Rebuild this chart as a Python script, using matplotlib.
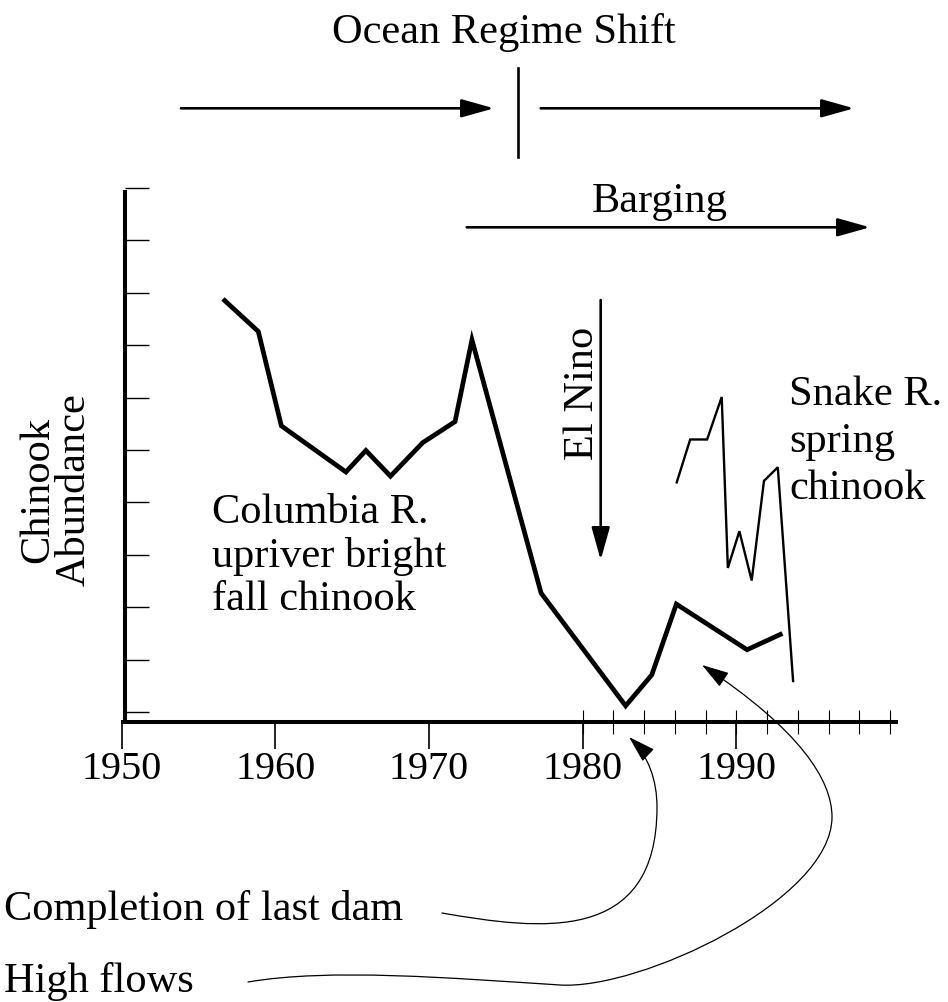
"""Chinook abundance sketch: Columbia R. fall chinook and Snake R. spring chinook."""
import matplotlib

matplotlib.use("Agg")
import matplotlib.pyplot as plt
from matplotlib.patches import FancyArrowPatch
from matplotlib.path import Path

plt.rcParams["font.family"] = ["Liberation Serif", "DejaVu Serif"]

# values (abundance in tick units, 0..10)
columbia_years = [1956.6, 1958.9, 1960.4, 1964.6, 1965.9, 1967.5, 1969.6,
                  1971.7, 1972.8, 1977.3, 1982.8, 1984.5, 1986.1, 1990.7, 1993.0]
columbia_abundance = [7.88, 7.26, 5.46, 4.58, 4.99, 4.50, 5.14,
                      5.54, 7.10, 2.27, 0.12, 0.71, 2.06, 1.19, 1.50]

snake_years = [1986.1, 1987.0, 1988.1, 1989.05, 1989.45, 1990.2, 1991.0,
               1991.8, 1992.7, 1993.7]
snake_abundance = [4.36, 5.20, 5.20, 6.01, 2.75, 3.45, 2.51, 4.41, 4.67, 0.57]

year_ticks = [1950, 1960, 1970, 1980, 1990]
year_minor_ticks = list(range(1980, 2001, 2))
abundance_ticks = list(range(0, 11))

columbia_label = ["Columbia R.", "upriver bright", "fall chinook"]
snake_label = ["Snake R.", "spring", "chinook"]
ylabel_lines = ["Chinook", "Abundance"]

W, H = 948, 1002
FS = 30.5

fig = plt.figure(figsize=(W / 100, H / 100), dpi=100)

# main axes, placed so the spines sit where the reference has them
ax = fig.add_axes([115 / W, (H - 721.5) / H, (900 - 115) / W, (721.5 - 180) / H])
ax.set_xlim(1949.577, 2000.65)
ax.set_ylim(-0.179, 10.149)
ax.patch.set_visible(False)

ax.plot(columbia_years, columbia_abundance, color="black", lw=3.4,
        solid_joinstyle="miter", solid_capstyle="butt")
ax.plot(snake_years, snake_abundance, color="black", lw=1.7,
        solid_joinstyle="miter", solid_capstyle="butt")

for side in ("top", "right"):
    ax.spines[side].set_visible(False)
ax.spines["left"].set_position(("data", 1950.2))
ax.spines["left"].set_bounds(-0.179, 9.92)
ax.spines["bottom"].set_bounds(1950.1, 2000.4)
ax.spines["left"].set_linewidth(2.9)
ax.spines["bottom"].set_linewidth(2.9)

ax.set_xticks(year_ticks)
ax.set_xticks(year_minor_ticks, minor=True)
ax.xaxis.remove_overlapping_locs = False
ax.set_xticklabels([str(y) for y in year_ticks])
ax.set_yticks(abundance_ticks)
ax.tick_params(axis="x", which="major", direction="out", length=19.5, width=1.2,
               labelsize=29, pad=2)
ax.tick_params(axis="x", which="minor", direction="inout", length=17.5, width=0.8)
ax.tick_params(axis="y", which="both", direction="in", length=17.5, width=1.0,
               labelleft=False)

# overlay in pixel coordinates for the annotations
ov = fig.add_axes([0, 0, 1, 1])
ov.set_xlim(0, W)
ov.set_ylim(H, 0)
ov.axis("off")
ov.patch.set_visible(False)


def straight_arrow(x0, y0, x1, y1):
    ov.add_patch(FancyArrowPatch(
        (x0, y0), (x1, y1), arrowstyle="-|>,head_length=20,head_width=5.6",
        mutation_scale=1, lw=1.9, color="black", shrinkA=0, shrinkB=0))


def curved_arrow(verts, codes):
    ov.add_patch(FancyArrowPatch(
        path=Path(verts, codes), arrowstyle="-|>,head_length=17,head_width=5.2",
        mutation_scale=1, lw=0.9, color="black"))


straight_arrow(181, 108.3, 494, 108.3)
straight_arrow(540.7, 108.3, 854, 108.3)
straight_arrow(466.7, 227.3, 870, 227.3)
straight_arrow(600.7, 300, 600.7, 560)
ov.plot([518.3, 518.3], [68.3, 157.3], color="black", lw=1.9)

C4 = Path.CURVE4
curved_arrow([(442, 913), (540, 930), (657, 945), (657, 807),
              (657, 780), (648, 755), (629, 737)],
             [Path.MOVETO, C4, C4, C4, C4, C4, C4])
curved_arrow([(248, 982), (330, 968), (450, 978), (560, 985),
              (640, 990), (832, 900), (832, 817),
              (832, 780), (800, 730), (702, 665)],
             [Path.MOVETO, C4, C4, C4, C4, C4, C4, C4, C4, C4])

ov.text(504, 42.7, "Ocean Regime Shift", ha="center", va="baseline", fontsize=FS)
ov.text(660, 211.7, "Barging", ha="center", va="baseline", fontsize=FS)
ov.text(593, 393, "El Nino", ha="center", va="baseline", rotation=90,
        rotation_mode="anchor", fontsize=FS)
ov.text(4, 920, "Completion of last dam", ha="left", va="baseline", fontsize=FS)
ov.text(4, 991.7, "High flows", ha="left", va="baseline", fontsize=FS)

for line, base in zip(columbia_label, [523.3, 566.7, 610]):
    ov.text(212, base, line, ha="left", va="baseline", fontsize=FS)
for line, base in zip(snake_label, [405, 452, 499]):
    ov.text(789, base, line, ha="left", va="baseline", fontsize=FS)
for line, base in zip(ylabel_lines, [48, 85]):
    ov.text(base, 490, line, ha="center", va="baseline", rotation=90,
            rotation_mode="anchor", fontsize=FS)

fig.savefig("out.png", dpi=100)
